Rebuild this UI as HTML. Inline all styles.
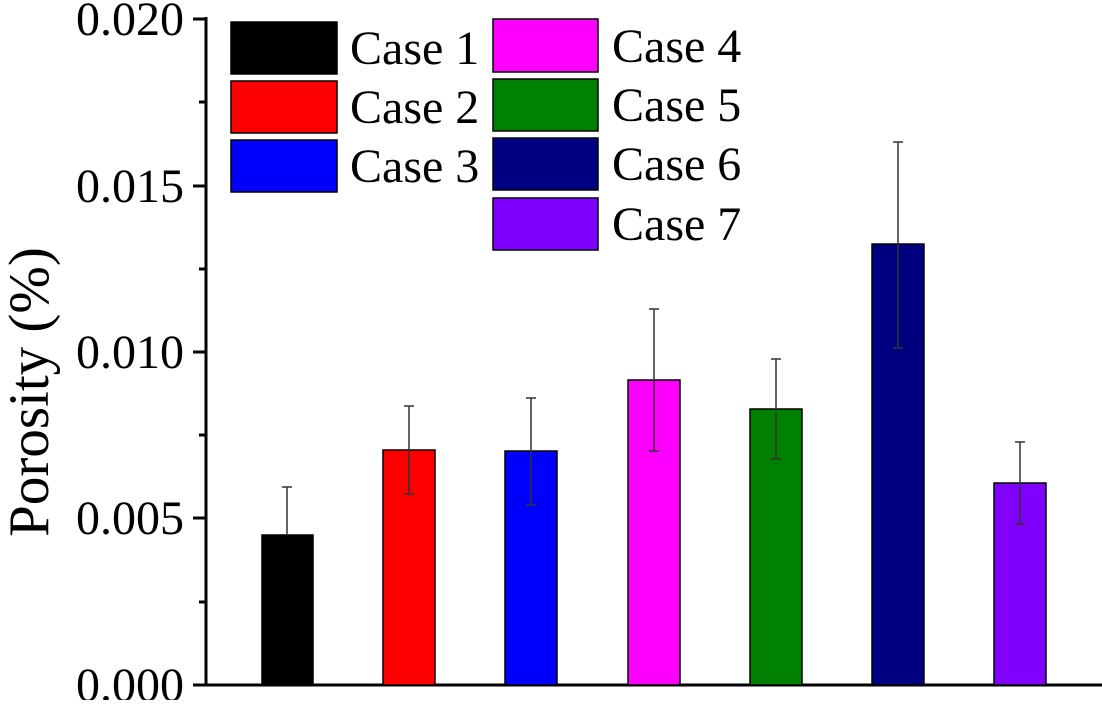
<!DOCTYPE html>
<html><head><meta charset="utf-8"><style>html,body{margin:0;padding:0;background:#fff}</style></head>
<body>
<svg width="1102" height="700" viewBox="0 0 1102 700" xmlns="http://www.w3.org/2000/svg" font-family="Liberation Serif, serif">
<rect width="1102" height="700" fill="#fff"/>
<g stroke="#000" stroke-width="3" fill="none">
<line x1="206" y1="17" x2="206" y2="686"/>
<line x1="193" y1="685" x2="1102" y2="685"/>
<line x1="193" y1="19" x2="206" y2="19"/>
<line x1="199" y1="102" x2="206" y2="102"/>
<line x1="193" y1="186" x2="206" y2="186"/>
<line x1="199" y1="269" x2="206" y2="269"/>
<line x1="193" y1="352" x2="206" y2="352"/>
<line x1="199" y1="435" x2="206" y2="435"/>
<line x1="193" y1="518" x2="206" y2="518"/>
<line x1="199" y1="602" x2="206" y2="602"/>
</g>
<g font-size="48" text-anchor="end" fill="#000">
<text x="184" y="35">0.020</text>
<text x="184" y="202">0.015</text>
<text x="184" y="368">0.010</text>
<text x="184" y="534">0.005</text>
<text x="184" y="701">0.000</text>
</g>
<text transform="translate(48,392) rotate(-90)" font-size="57" text-anchor="middle">Porosity (%)</text>
<g stroke="#000" stroke-width="1.5">
<rect x="262" y="535" width="51" height="150" fill="#000"/>
<rect x="383" y="450" width="52" height="235" fill="#ff0000"/>
<rect x="505" y="451" width="52" height="234" fill="#0000ff"/>
<rect x="628" y="380" width="52" height="305" fill="#ff00ff"/>
<rect x="750" y="409" width="52" height="276" fill="#008000"/>
<rect x="872" y="244" width="52" height="441" fill="#000080"/>
<rect x="994" y="483" width="52" height="202" fill="#8000ff"/>
</g>
<g stroke="#333" stroke-width="1.5">
<path d="M287 535V487M282 487H292"/>
<path d="M409 406V494M404 406H414M404 494H414"/>
<path d="M531 398V505M526 398H536M526 505H536"/>
<path d="M654 309V451M649 309H659M649 451H659"/>
<path d="M776 359V459M771 359H781M771 459H781"/>
<path d="M898 142V348M893 142H903M893 348H903"/>
<path d="M1020 442V524M1015 442H1025M1015 524H1025"/>
</g>
<g stroke="#000" stroke-width="1.5">
<rect x="231" y="22" width="106" height="52" fill="#000"/>
<rect x="231" y="81" width="106" height="52" fill="#ff0000"/>
<rect x="231" y="140" width="106" height="52" fill="#0000ff"/>
<rect x="493" y="19" width="105" height="53" fill="#ff00ff"/>
<rect x="493" y="79" width="105" height="52" fill="#008000"/>
<rect x="493" y="138" width="105" height="52" fill="#000080"/>
<rect x="493" y="198" width="105" height="52" fill="#8000ff"/>
</g>
<g font-size="48" fill="#000">
<text x="350" y="64">Case 1</text>
<text x="350" y="123">Case 2</text>
<text x="350" y="182">Case 3</text>
<text x="612" y="62">Case 4</text>
<text x="612" y="121">Case 5</text>
<text x="612" y="180">Case 6</text>
<text x="612" y="240">Case 7</text>
</g>
</svg>
</body></html>
